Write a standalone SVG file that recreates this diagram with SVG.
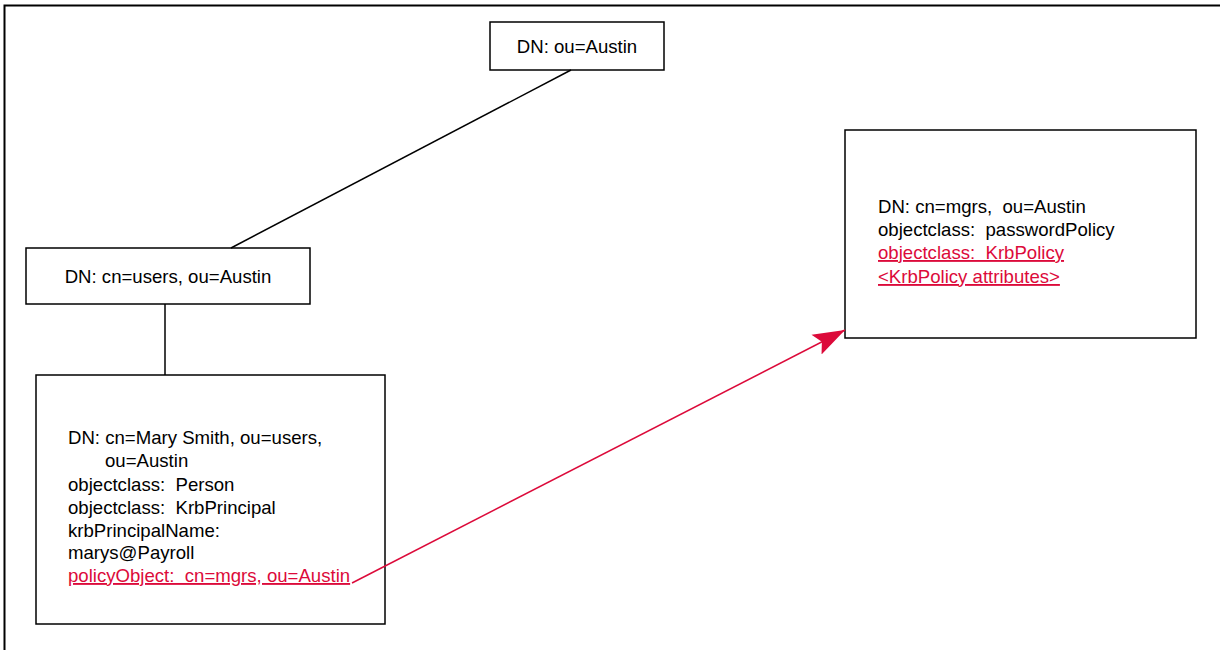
<svg xmlns="http://www.w3.org/2000/svg" width="1220" height="650" viewBox="0 0 1220 650">
  <style>
    .box { fill: #ffffff; stroke: #000000; stroke-width: 1.5; }
    .t { font-family: "Liberation Sans", Arial, sans-serif; font-size: 18.6px; fill: #000000; }
    .mid { text-anchor: middle; }
    .red { fill: #dc0a3a; text-decoration: underline; }
    .link { stroke: #000000; stroke-width: 1.5; fill: none; }
    .ref { stroke: #dc0a3a; stroke-width: 1.5; fill: none; }
  </style>
  <defs>
    <marker id="redHead" markerUnits="userSpaceOnUse" markerWidth="34" markerHeight="24" refX="32" refY="12" orient="auto">
      <path d="M0,1 L32,12 L0,23 L6,12 Z" fill="#dc0a3a"/>
    </marker>
  </defs>

  <rect width="1220" height="650" fill="#ffffff"/>
  <!-- page frame -->
  <path d="M4.5,652 L4.5,5.5 L1222,5.5" fill="none" stroke="#000000" stroke-width="2"/>

  <g id="node-austin">
    <rect class="box" x="490" y="22" width="174" height="48"/>
    <text class="t mid" x="577" y="53">DN: ou=Austin</text>
  </g>

  <g id="node-users">
    <rect class="box" x="26" y="248" width="284" height="56"/>
    <text class="t mid" x="168" y="283">DN: cn=users, ou=Austin</text>
  </g>

  <g id="node-mary">
    <rect class="box" x="36" y="375" width="349" height="249"/>
    <text class="t" x="68" y="444">DN: cn=Mary Smith, ou=users,</text>
    <text class="t" x="105" y="467">ou=Austin</text>
    <text class="t" x="68" y="491" xml:space="preserve">objectclass:  Person</text>
    <text class="t" x="68" y="514" xml:space="preserve">objectclass:  KrbPrincipal</text>
    <text class="t" x="68" y="537">krbPrincipalName:</text>
    <text class="t" x="68" y="559">marys@Payroll</text>
    <text class="t red" x="68" y="582" xml:space="preserve">policyObject:  cn=mgrs, ou=Austin</text>
  </g>

  <g id="node-mgrs">
    <rect class="box" x="845" y="130" width="351" height="208"/>
    <text class="t" x="878" y="213" xml:space="preserve">DN: cn=mgrs,  ou=Austin</text>
    <text class="t" x="878" y="236" xml:space="preserve">objectclass:  passwordPolicy</text>
    <text class="t red" x="878" y="259" xml:space="preserve">objectclass:  KrbPolicy</text>
    <text class="t red" x="878" y="283">&lt;KrbPolicy attributes&gt;</text>
  </g>

  <!-- connectors -->
  <g id="connectors">
    <line class="link" x1="571" y1="70" x2="231" y2="248"/>
    <line class="link" x1="165" y1="304" x2="165" y2="375"/>
    <polyline class="ref" points="352,583 845,330" marker-end="url(#redHead)"/>
  </g>
</svg>
